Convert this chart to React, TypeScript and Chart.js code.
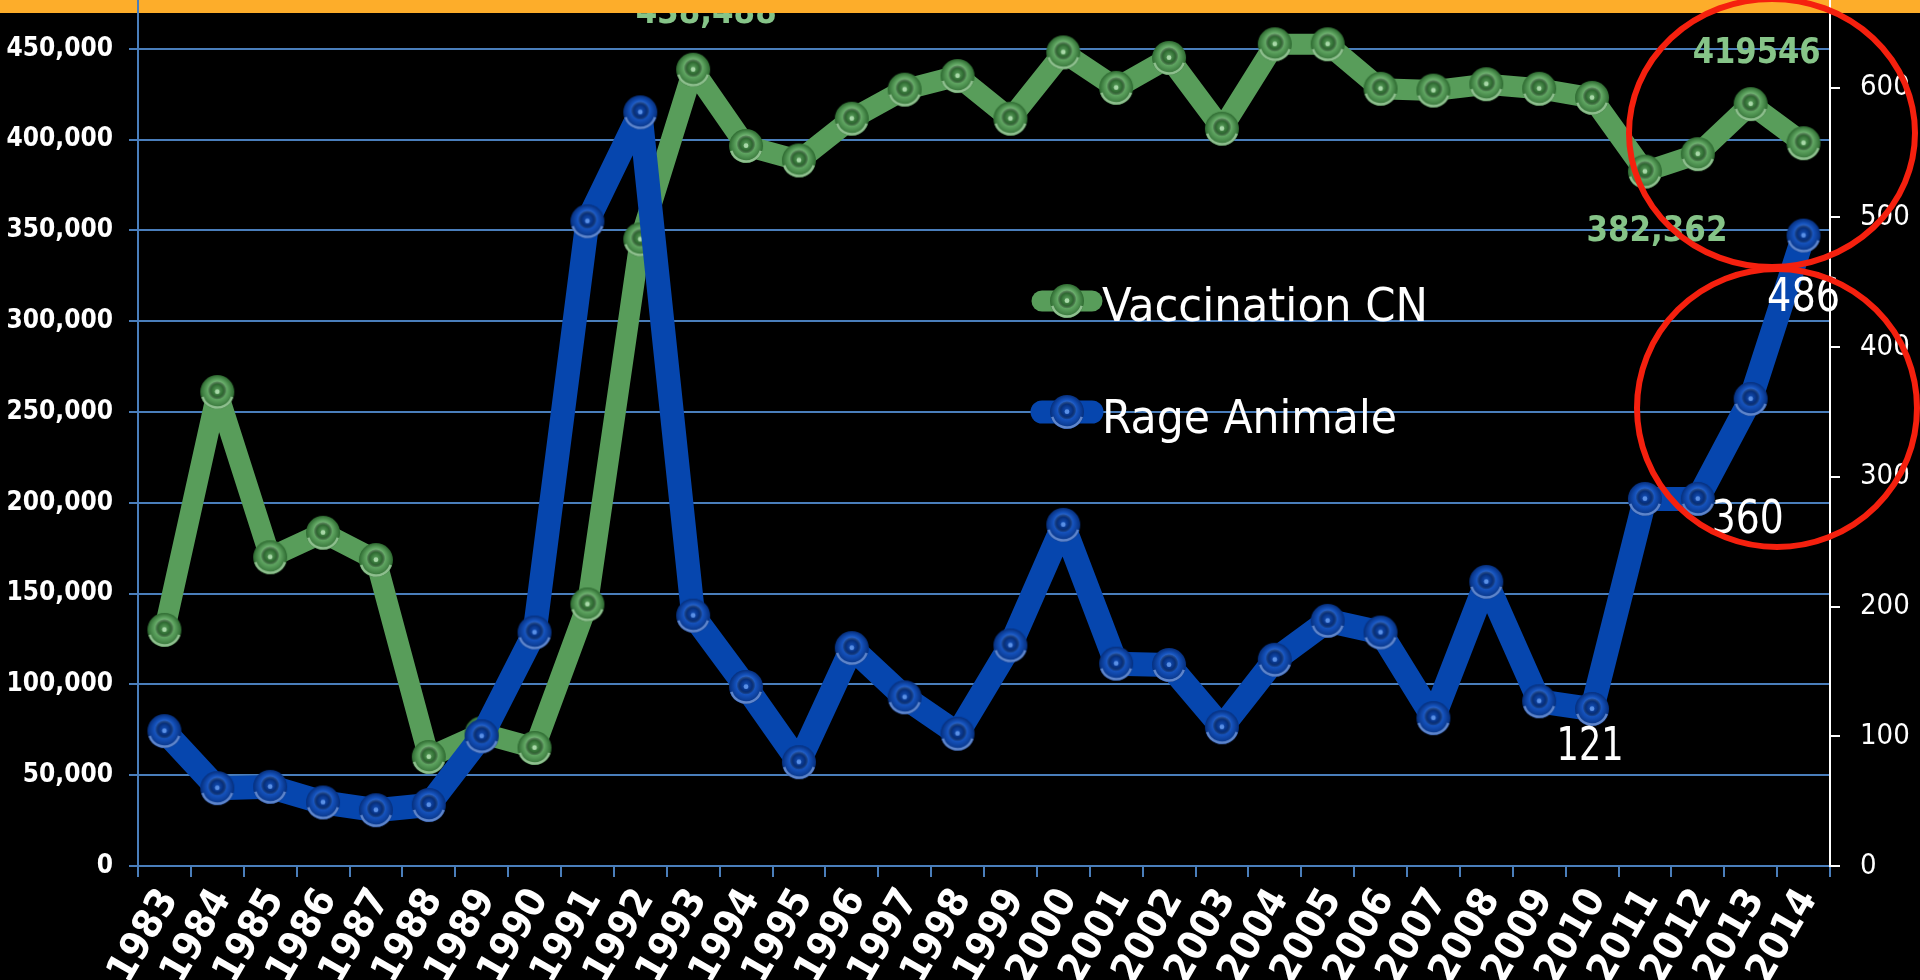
import React, { useEffect, useRef } from "react";
import { Chart, registerables } from "chart.js";

Chart.register(...registerables);

// ---------------- data ----------------
const years = [
  "1983", "1984", "1985", "1986", "1987", "1988", "1989", "1990", "1991", "1992",
  "1993", "1994", "1995", "1996", "1997", "1998", "1999", "2000", "2001", "2002",
  "2003", "2004", "2005", "2006", "2007", "2008", "2009", "2010", "2011", "2012",
  "2013", "2014",
];

const vaccinationCN = [
  130000, 261000, 170000, 183500, 168500, 60000, 73000, 65000, 144000, 345000,
  438488, 396500, 388500, 411500, 427500, 435000, 411500, 448000, 428500, 445000,
  406000, 452500, 452500, 428000, 427000, 430500, 428000, 423000, 382362, 392000,
  419546, 398000,
];

const rageAnimale = [
  104, 60, 61, 49, 43, 47, 100, 180, 497, 581,
  193, 138, 80, 168, 130, 102, 170, 263, 156, 155,
  107, 159, 189, 180, 114, 219, 127, 121, 283, 283,
  360, 486,
];

const seriesNames = ["Vaccination CN", "Rage Animale"];

const leftTickValues = { min: 0, max: 500000, step: 50000 };
const rightTickValues = { min: 0, max: 700, step: 100 };

// value annotations (text shown next to some points)
const vaccinationNotes = [
  { year: "1993", text: "438,488" },
  { year: "2011", text: "382,362" },
  { year: "2013", text: "419546" },
];
const rageNotes = [
  { year: "2010", text: "121" },
  { year: "2013", text: "360" },
  { year: "2014", text: "486" },
];

// ---------------- styles / layout ----------------
const CANVAS_W = 1920;
const CANVAS_H = 1140;
const PLOT_TOP_PAGE = -42; // plot area top lies above the visible page
const PLOT_H = 908; // plot area height (page px)
const FONT = '"DejaVu Sans Condensed", "DejaVu Sans", sans-serif';
const GRID_BLUE = "#4A7EBB";
const GREEN = "#589D5A";
const BLUE = "#0646AE";
const LABEL_GREEN = "#86C488";
const ORANGE = "#FDAD2A";
const RED = "#F5200E";

// offsets (page px) of annotation centers from their points, and their target widths
const vaccinationNoteStyle = [
  { dx: 13, dy: -60, w: 141 },
  { dx: 12, dy: 56, w: 141 },
  { dx: 6, dy: -54, w: 128 },
];
const rageNoteStyle = [
  { dx: -2, dy: 34, w: 67 },
  { dx: -3, dy: 117, w: 72 },
  { dx: 0, dy: 58, w: 73 },
];

function makeBead(r: number, base: string, light: string, dark: string, rim: string) {
  const size = Math.ceil(2 * r + 4);
  const c = document.createElement("canvas");
  c.width = size;
  c.height = size;
  const g = c.getContext("2d")!;
  const cx = size / 2;
  const cy = size / 2;
  let grad = g.createRadialGradient(cx, cy - r * 0.3, r * 0.1, cx, cy, r);
  grad.addColorStop(0, light);
  grad.addColorStop(0.55, base);
  grad.addColorStop(1, dark);
  g.beginPath();
  g.arc(cx, cy, r, 0, Math.PI * 2);
  g.fillStyle = grad;
  g.fill();
  g.beginPath();
  g.arc(cx, cy, r - 1.5, Math.PI * 0.1, Math.PI * 0.9);
  g.strokeStyle = rim;
  g.lineWidth = 2.5;
  g.stroke();
  grad = g.createRadialGradient(cx, cy - r * 0.1, 0, cx, cy - r * 0.1, r * 0.55);
  grad.addColorStop(0, base);
  grad.addColorStop(0.65, dark);
  grad.addColorStop(1, "rgba(0,0,0,0)");
  g.beginPath();
  g.arc(cx, cy - r * 0.1, r * 0.55, 0, Math.PI * 2);
  g.fillStyle = grad;
  g.fill();
  g.beginPath();
  g.arc(cx, cy - r * 0.02, r * 0.14, 0, Math.PI * 2);
  g.fillStyle = light;
  g.fill();
  return c;
}

function fitText(
  ctx: CanvasRenderingContext2D,
  text: string,
  x: number,
  y: number,
  font: string,
  width: number,
  align: CanvasTextAlign,
  color: string
) {
  ctx.save();
  ctx.font = font;
  const w = ctx.measureText(text).width || 1;
  ctx.translate(x, y);
  ctx.scale(width / w, 1);
  ctx.textAlign = align;
  ctx.textBaseline = "alphabetic";
  ctx.fillStyle = color;
  ctx.fillText(text, 0, 0);
  ctx.restore();
}

const fmt = (v: number) => String(v).replace(/\B(?=(\d{3})+(?!\d))/g, ",");

export default function App() {
  const ref = useRef<HTMLCanvasElement>(null);

  useEffect(() => {
    const canvas = ref.current;
    if (!canvas) return;
    const greenBead = makeBead(17, "#5EA460", "#A8D8A8", "#2E6A31", "#8FC08F");
    const blueBead = makeBead(17, "#1552BC", "#5A90E6", "#062F7C", "#5F86CC");

    // canvas rows hidden above the page; computed from the chart's real plot-area top
    let areaTop = 40;
    let shift = areaTop - PLOT_TOP_PAGE;

    const overlay = {
      id: "overlay",
      afterDatasetsDraw(chart: any) {
        const ctx: CanvasRenderingContext2D = chart.ctx;
        const rows = [
          { y: 301, color: GREEN, bead: greenBead, text: seriesNames[0], w: 326, base: 20, lw: 21 },
          { y: 412, color: BLUE, bead: blueBead, text: seriesNames[1], w: 295, base: 21, lw: 23 },
        ];
        rows.forEach((r) => {
          const cy = r.y + shift;
          ctx.save();
          ctx.strokeStyle = r.color;
          ctx.lineWidth = r.lw;
          ctx.lineCap = "round";
          ctx.beginPath();
          ctx.moveTo(1042, cy);
          ctx.lineTo(1092, cy);
          ctx.stroke();
          ctx.drawImage(r.bead, 1067 - r.bead.width / 2, cy - r.bead.height / 2);
          ctx.restore();
          fitText(ctx, r.text, 1102, cy + r.base, `normal 46px ${FONT}`, r.w, "left", "#FFFFFF");
        });
        const gMeta = chart.getDatasetMeta(0);
        const bMeta = chart.getDatasetMeta(1);
        vaccinationNotes.forEach((n, i) => {
          const p = gMeta.data[years.indexOf(n.year)];
          const s = vaccinationNoteStyle[i];
          fitText(ctx, n.text, p.x + s.dx, p.y + s.dy + 13, `bold 36px ${FONT}`, s.w, "center", LABEL_GREEN);
        });
        rageNotes.forEach((n, i) => {
          const p = bMeta.data[years.indexOf(n.year)];
          const s = rageNoteStyle[i];
          fitText(ctx, n.text, p.x + s.dx, p.y + s.dy + 17, `normal 46px ${FONT}`, s.w, "center", "#FFFFFF");
        });
      },
      afterDraw(chart: any) {
        const ctx: CanvasRenderingContext2D = chart.ctx;
        const a = chart.chartArea;
        ctx.save();
        ctx.fillStyle = ORANGE;
        ctx.fillRect(0, 0, CANVAS_W, shift + 13);
        ctx.lineWidth = 2;
        ctx.strokeStyle = GRID_BLUE;
        ctx.beginPath();
        ctx.moveTo(a.left, shift - 2);
        ctx.lineTo(a.left, shift + 14);
        ctx.stroke();
        ctx.strokeStyle = "#FFFFFF";
        ctx.beginPath();
        ctx.moveTo(a.right, shift - 2);
        ctx.lineTo(a.right, shift + 14);
        ctx.stroke();
        ctx.strokeStyle = RED;
        ctx.lineWidth = 6;
        ctx.beginPath();
        ctx.ellipse(1772, 133 + shift, 143, 134, 0, 0, Math.PI * 2);
        ctx.stroke();
        ctx.beginPath();
        ctx.ellipse(1777, 408 + shift, 140, 139, 0, 0, Math.PI * 2);
        ctx.stroke();
        ctx.restore();
      },
    };

    const chart = new Chart(canvas, {
      type: "line",
      data: {
        labels: years,
        datasets: [
          {
            label: seriesNames[0],
            data: vaccinationCN,
            yAxisID: "y",
            borderColor: GREEN,
            backgroundColor: GREEN,
            borderWidth: 21,
            borderJoinStyle: "round",
            borderCapStyle: "round",
            pointStyle: greenBead as any,
            pointRadius: 17,
            tension: 0,
            order: 2,
            clip: false as any,
          },
          {
            label: seriesNames[1],
            data: rageAnimale,
            yAxisID: "y1",
            borderColor: BLUE,
            backgroundColor: BLUE,
            borderWidth: 24,
            borderJoinStyle: "round",
            borderCapStyle: "round",
            pointStyle: blueBead as any,
            pointRadius: 17,
            tension: 0,
            order: 1,
            clip: false as any,
          },
        ],
      },
      options: {
        responsive: false,
        maintainAspectRatio: false,
        animation: false,
        events: [],
        layout: { padding: { top: 0, left: 0, right: 0, bottom: 0 } },
        plugins: { legend: { display: false }, tooltip: { enabled: false } },
        scales: {
          x: {
            offset: true,
            grid: { offset: true, drawOnChartArea: false, drawTicks: true, tickLength: 11, color: GRID_BLUE, lineWidth: 2 },
            border: { display: true, color: GRID_BLUE, width: 2 },
            ticks: {
              color: "#FFFFFF",
              font: { family: FONT, size: 40, weight: "bold" },
              minRotation: 60,
              maxRotation: 60,
              autoSkip: false,
              padding: 4,
              labelOffset: 5,
            },
            afterFit: (s: any) => {
              s.height = CANVAS_H - areaTop - PLOT_H;
            },
          },
          y: {
            position: "left",
            min: leftTickValues.min,
            max: leftTickValues.max,
            ticks: {
              stepSize: leftTickValues.step,
              color: "#FFFFFF",
              font: { family: FONT, size: 26, weight: "bold" },
              padding: 16,
              callback: (v: any) => fmt(Number(v)),
            },
            grid: { color: GRID_BLUE, lineWidth: 2, tickLength: 9, drawTicks: true },
            border: { color: GRID_BLUE, width: 2 },
            afterFit: (s: any) => {
              s.width = 138;
            },
          },
          y1: {
            position: "right",
            min: rightTickValues.min,
            max: rightTickValues.max,
            ticks: {
              stepSize: rightTickValues.step,
              color: "#FFFFFF",
              font: { family: FONT, size: 29, weight: "normal" },
              padding: 20,
            },
            grid: { drawOnChartArea: false, color: "#FFFFFF", tickLength: 10, lineWidth: 2, drawTicks: true },
            border: { color: "#FFFFFF", width: 2 },
            afterFit: (s: any) => {
              s.width = CANVAS_W - 1830;
            },
          },
        },
      } as any,
      plugins: [overlay],
    });

    // align the real plot area with the reference (top above page, fixed height)
    for (let k = 0; k < 3; k++) {
      const t = chart.chartArea.top;
      const h = chart.chartArea.bottom - chart.chartArea.top;
      if (Math.abs(t - areaTop) < 0.5 && Math.abs(h - PLOT_H) < 0.5) break;
      areaTop = t;
      shift = areaTop - PLOT_TOP_PAGE;
      chart.update();
    }
    canvas.style.top = `${-shift}px`;
    chart.render();

    return () => chart.destroy();
  }, []);

  return (
    <div
      style={{
        position: "fixed",
        left: 0,
        top: 0,
        width: 1920,
        height: 980,
        overflow: "hidden",
        background: "#000000",
      }}
    >
      <canvas
        ref={ref}
        width={CANVAS_W}
        height={CANVAS_H}
        style={{ position: "absolute", left: 0, top: -82, width: CANVAS_W, height: CANVAS_H }}
      />
    </div>
  );
}
